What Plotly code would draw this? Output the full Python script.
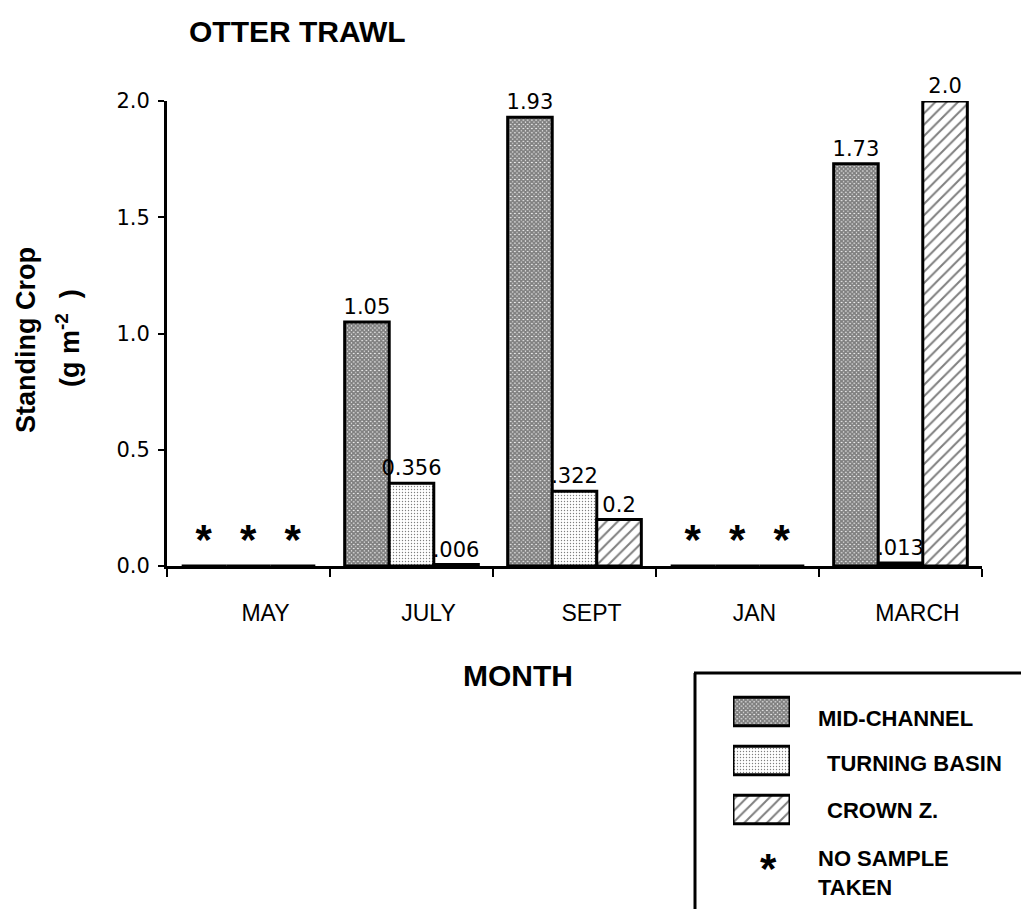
import plotly.graph_objects as go

# ---- data -------------------------------------------------------------
months = ["MAY", "JULY", "SEPT", "JAN", "MARCH"]
series_names = ["MID-CHANNEL", "TURNING BASIN", "CROWN Z."]

# standing crop, g m^-2 (None = no sample taken)
mid_channel = [None, 1.05, 1.93, None, 1.73]
turning_basin = [None, 0.356, 0.322, None, 0.013]
crown_z = [None, 0.006, 0.2, None, 2.0]

# value labels as printed above each bar
mid_channel_labels = ["1.05", "1.93", "1.73"]
turning_basin_labels = ["0.356", ".322", ".013"]
crown_z_labels = [".006", "0.2", "2.0"]

y_ticks = [0.0, 0.5, 1.0, 1.5, 2.0]

# ---- figure geometry (pixels) ----------------------------------------
W, H = 1021, 909


def px(x):
    return x / W


def py(y):
    return 1 - y / H


NUM_FONT = "DejaVu Sans"
TXT_FONT = "Liberation Sans, Arial, sans-serif"

styles = [
    dict(shape="x", size=3, solidity=0.85),
    dict(shape=".", size=3, solidity=0.16),
    dict(shape="/", size=8, solidity=0.25),
]


def bar_inputs(values, labels):
    vals, texts, sizes, fams = [], [], [], []
    it = iter(labels)
    for v in values:
        if v is None:
            vals.append(0)
            texts.append("<b>*</b>")
            sizes.append(42)
            fams.append(TXT_FONT)
        else:
            vals.append(v)
            texts.append(next(it))
            sizes.append(21)
            fams.append(NUM_FONT)
    return vals, texts, sizes, fams


fig = go.Figure()

for name, values, labels, st in zip(
    series_names,
    [mid_channel, turning_basin, crown_z],
    [mid_channel_labels, turning_basin_labels, crown_z_labels],
    styles,
):
    vals, texts, sizes, fams = bar_inputs(values, labels)
    fig.add_trace(
        go.Bar(
            x=months,
            y=vals,
            name=name,
            text=texts,
            textposition="outside",
            textfont=dict(size=sizes, family=fams, color="black"),
            constraintext="none",
            cliponaxis=False,
            marker=dict(
                color="white",
                line=dict(color="black", width=3),
                pattern=dict(fgcolor="black", bgcolor="white",
                             fillmode="overlay", **st),
            ),
            showlegend=False,
            hoverinfo="skip",
        )
    )

# legend swatches drawn as a small inset bar chart
fig.add_trace(
    go.Bar(
        x=[1, 1, 1],
        y=series_names,
        orientation="h",
        width=0.58,
        xaxis="x2",
        yaxis="y2",
        marker=dict(
            color="white",
            line=dict(color="black", width=3),
            pattern=dict(
                shape=[s["shape"] for s in styles],
                size=[s["size"] for s in styles],
                solidity=[s["solidity"] for s in styles],
                fgcolor="black",
                bgcolor="white",
                fillmode="overlay",
            ),
        ),
        showlegend=False,
        hoverinfo="skip",
    )
)

annotations = [
    dict(text="<b>OTTER TRAWL</b>", x=px(187), y=py(31), xanchor="left",
         yanchor="middle", font=dict(size=30, family=TXT_FONT)),
    dict(text="<b>MONTH</b>", x=px(518), y=py(675), xanchor="center",
         yanchor="middle", font=dict(size=30, family=TXT_FONT)),
    dict(text="<b>Standing Crop</b>", x=px(26), y=py(340), textangle=-90,
         xanchor="center", yanchor="middle", font=dict(size=27, family=TXT_FONT)),
    dict(text="<b>(g m<sup>-2</sup>  )</b>", x=px(68), y=py(338), textangle=-90,
         xanchor="center", yanchor="middle", font=dict(size=27, family=TXT_FONT)),
    dict(text="<b>MID-CHANNEL</b>", x=px(816), y=py(718), xanchor="left",
         yanchor="middle", font=dict(size=22, family=TXT_FONT)),
    dict(text="<b>TURNING BASIN</b>", x=px(825), y=py(763), xanchor="left",
         yanchor="middle", font=dict(size=22, family=TXT_FONT)),
    dict(text="<b>CROWN Z.</b>", x=px(825), y=py(810), xanchor="left",
         yanchor="middle", font=dict(size=22, family=TXT_FONT)),
    dict(text="<b>*</b>", x=px(768), y=py(868), xanchor="center",
         yanchor="middle", font=dict(size=42, family=TXT_FONT)),
    dict(text="<b>NO SAMPLE</b>", x=px(816), y=py(858), xanchor="left",
         yanchor="middle", font=dict(size=22, family=TXT_FONT)),
    dict(text="<b>TAKEN</b>", x=px(816), y=py(887), xanchor="left",
         yanchor="middle", font=dict(size=22, family=TXT_FONT)),
]
for a in annotations:
    a.update(xref="paper", yref="paper", showarrow=False)

shapes = [
    dict(type="line", xref="paper", yref="paper", x0=px(695), x1=px(695),
         y0=0, y1=py(673), line=dict(color="black", width=3)),
    dict(type="line", xref="paper", yref="paper", x0=px(694), x1=1,
         y0=py(673), y1=py(673), line=dict(color="black", width=3)),
]

fig.update_layout(
    width=W,
    height=H,
    margin=dict(l=0, r=0, t=0, b=0),
    paper_bgcolor="white",
    plot_bgcolor="white",
    barmode="group",
    bargap=0.18,
    bargroupgap=0,
    font=dict(family=TXT_FONT, color="black"),
    xaxis=dict(
        domain=[px(167), px(982)],
        type="category",
        categoryorder="array",
        categoryarray=months,
        tickson="boundaries",
        showline=True,
        linecolor="black",
        linewidth=3,
        ticks="outside",
        ticklen=8,
        tickwidth=2,
        tickcolor="black",
        ticklabelstandoff=24,
        ticklabelshift=17,
        tickfont=dict(size=23, family=TXT_FONT, color="black"),
        showgrid=False,
        zeroline=False,
        automargin=False,
        anchor="y",
    ),
    yaxis=dict(
        domain=[py(566), py(101)],
        range=[0, 2.0],
        tickvals=y_ticks,
        tickformat=".1f",
        showline=True,
        linecolor="black",
        linewidth=3,
        ticks="outside",
        ticklen=6,
        tickwidth=2,
        tickcolor="black",
        ticklabelstandoff=4,
        tickfont=dict(size=21, family=NUM_FONT, color="black"),
        showgrid=False,
        zeroline=False,
        automargin=False,
        anchor="x",
    ),
    xaxis2=dict(domain=[px(733), px(790)], range=[0, 1], visible=False,
                anchor="y2", fixedrange=True),
    yaxis2=dict(domain=[py(834), py(687)], type="category",
                categoryorder="array", categoryarray=series_names,
                autorange="reversed", visible=False, anchor="x2",
                fixedrange=True),
    annotations=annotations,
    shapes=shapes,
)

fig.write_html("out.html")
